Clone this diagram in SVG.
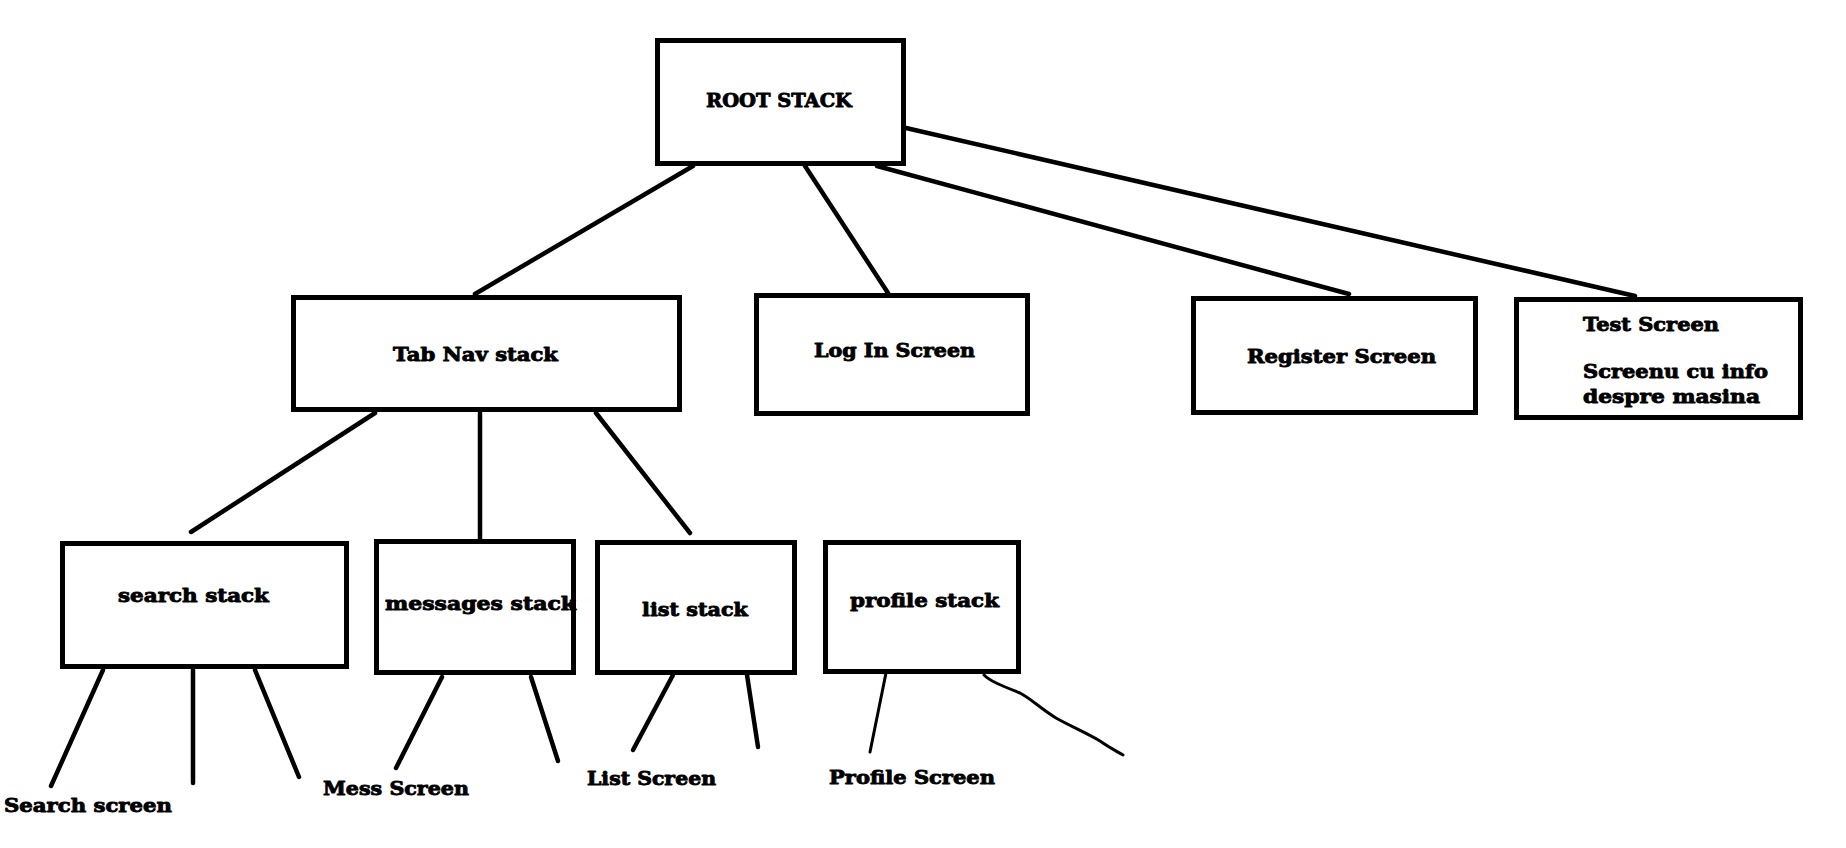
<svg xmlns="http://www.w3.org/2000/svg" width="1846" height="848" viewBox="0 0 1846 848">
<style>
.box{fill:#fff;stroke:#000;stroke-width:5}
.t{font-family:"DejaVu Serif","Liberation Serif",serif;font-weight:bold;font-size:19px;fill:#000;stroke:#000;stroke-width:0.9;stroke-linejoin:round}
.c{stroke:#000;stroke-width:4.5;fill:none;stroke-linecap:round}
.thin{stroke:#000;stroke-width:3;fill:none;stroke-linecap:round;stroke-linejoin:round}
</style>
<rect width="1846" height="848" fill="#fff"/>
<g id="connectors">
<line class="c" x1="693" y1="166" x2="475" y2="294"/>
<line class="c" x1="805" y1="166" x2="888" y2="293"/>
<line class="c" x1="877" y1="166" x2="1349" y2="294"/>
<line class="c" x1="906" y1="128" x2="1635" y2="296"/>
<line class="c" x1="375" y1="413" x2="191" y2="532"/>
<line class="c" x1="480" y1="413" x2="480" y2="539"/>
<line class="c" x1="596" y1="413" x2="690" y2="533"/>
<line class="c" x1="103" y1="670" x2="51" y2="786"/>
<line class="c" x1="193" y1="670" x2="193" y2="783"/>
<line class="c" x1="255" y1="670" x2="299" y2="777"/>
<line class="c" x1="442" y1="677" x2="396" y2="768"/>
<line class="c" x1="531" y1="677" x2="558" y2="761"/>
<line class="c" x1="673" y1="675" x2="633" y2="750"/>
<line class="c" x1="747" y1="675" x2="758" y2="747"/>
<path class="thin" d="M878,672 L886,673 L870,752"/>
<path class="thin" d="M984,675 C990,681 1000,685 1020,693 C1030,698 1040,708 1056,718 C1070,726 1085,732 1100,741 C1110,748 1118,752 1123,755"/>
</g>
<g id="root">
<rect class="box" x="657.5" y="40.5" width="246" height="123"/>
<text class="t" x="706" y="107" textLength="146" lengthAdjust="spacingAndGlyphs">ROOT STACK</text>
</g>
<g id="tabnav">
<rect class="box" x="293.5" y="297.5" width="386" height="112"/>
<text class="t" x="393" y="361" textLength="165" lengthAdjust="spacingAndGlyphs">Tab Nav stack</text>
</g>
<g id="login">
<rect class="box" x="756.5" y="295.5" width="271" height="118"/>
<text class="t" x="814" y="357" textLength="161" lengthAdjust="spacingAndGlyphs">Log In Screen</text>
</g>
<g id="register">
<rect class="box" x="1193.5" y="298.5" width="282" height="114"/>
<text class="t" x="1247" y="363" textLength="189" lengthAdjust="spacingAndGlyphs">Register Screen</text>
</g>
<g id="test">
<rect class="box" x="1516.5" y="299.5" width="284" height="118"/>
<text class="t" x="1583" y="331" textLength="136" lengthAdjust="spacingAndGlyphs">Test Screen</text>
<text class="t" x="1583" y="378" textLength="185" lengthAdjust="spacingAndGlyphs">Screenu cu info</text>
<text class="t" x="1583" y="403" textLength="177" lengthAdjust="spacingAndGlyphs">despre masina</text>
</g>
<g id="search">
<rect class="box" x="62.5" y="543.5" width="284" height="123"/>
<text class="t" x="118" y="602" textLength="151" lengthAdjust="spacingAndGlyphs">search stack</text>
</g>
<g id="messages">
<rect class="box" x="376.5" y="541.5" width="197" height="131"/>
<text class="t" x="385" y="610" textLength="191" lengthAdjust="spacingAndGlyphs">messages stack</text>
</g>
<g id="list">
<rect class="box" x="597.5" y="542.5" width="197" height="130"/>
<text class="t" x="642" y="616" textLength="106" lengthAdjust="spacingAndGlyphs">list stack</text>
</g>
<g id="profile">
<rect class="box" x="825.5" y="542.5" width="193" height="129"/>
<text class="t" x="850" y="607" textLength="149" lengthAdjust="spacingAndGlyphs">profile stack</text>
</g>
<g id="labels">
<text class="t" x="4" y="812" textLength="168" lengthAdjust="spacingAndGlyphs">Search screen</text>
<text class="t" x="323" y="795" textLength="146" lengthAdjust="spacingAndGlyphs">Mess Screen</text>
<text class="t" x="587" y="785" textLength="129" lengthAdjust="spacingAndGlyphs">List Screen</text>
<text class="t" x="829" y="784" textLength="166" lengthAdjust="spacingAndGlyphs">Profile Screen</text>
</g>
</svg>
